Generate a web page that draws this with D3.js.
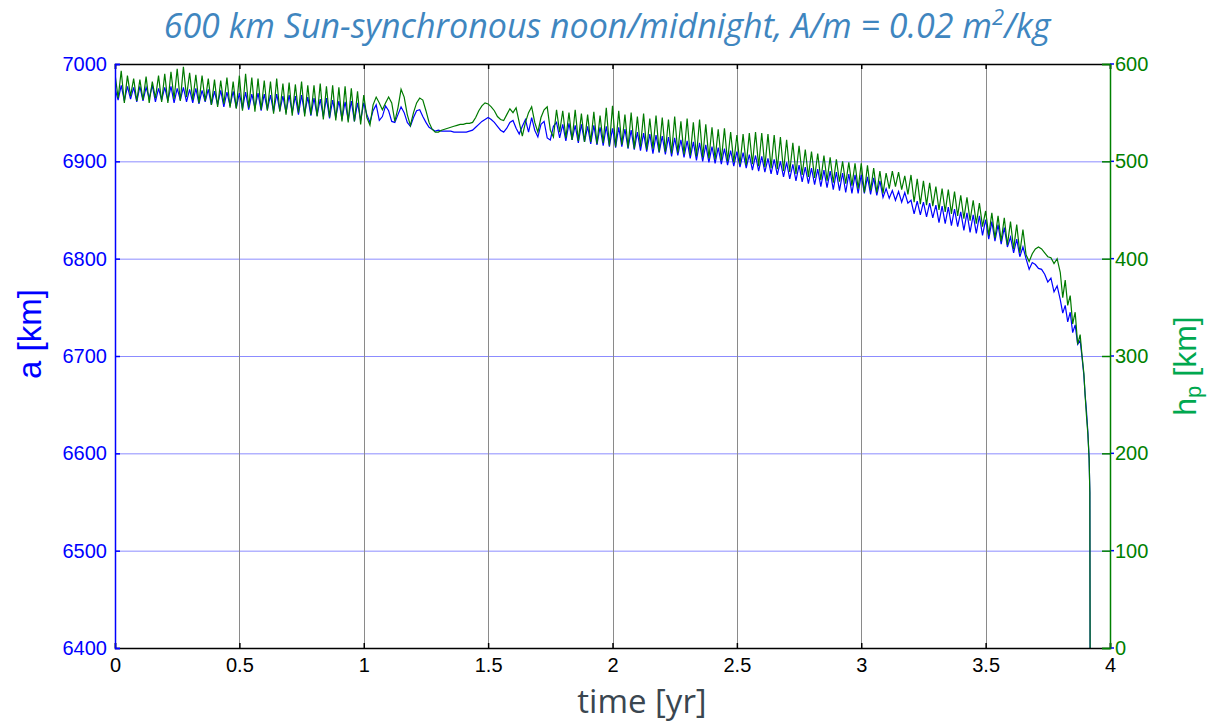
<!DOCTYPE html>
<html>
<head>
<meta charset="utf-8">
<script src="https://cdn.jsdelivr.net/npm/d3@7"></script>
<style>
  body { margin: 0; background: #fff; }
  svg text { font-family: "Liberation Sans", Arial, sans-serif; }
</style>
</head>
<body>
<div id="chart"></div>
<script>
// ---- data ----
// time step for the main part (yr), one row = 0.1 yr
const tStep = 0.0125;

// semi-major axis a [km]
const aMain = [
  6975, 6963, 6978, 6962, 6977, 6964, 6976, 6961,
  6977, 6962, 6976, 6965, 6978, 6961, 6975, 6963,
  6976, 6962, 6977, 6960, 6975, 6963, 6976, 6961,
  6974, 6960, 6975, 6959, 6973, 6961, 6974, 6958,
  6972, 6958, 6973, 6956, 6971, 6957, 6972, 6955,
  6970, 6954, 6971, 6953, 6969, 6955, 6970, 6952,
  6969, 6953, 6968, 6951, 6969, 6952, 6967, 6950,
  6968, 6950, 6967, 6948, 6968, 6949, 6966, 6947,
  6965, 6947, 6964, 6946, 6965, 6944, 6963, 6945,
  6962, 6943, 6961, 6942, 6962, 6941, 6960, 6942,
  6960, 6948, 6940, 6952, 6958, 6942, 6946, 6957,
  6952, 6941, 6940, 6948, 6956, 6950, 6940, 6936,
  6945, 6952, 6953, 6946, 6940, 6935, 6933, 6931,
  6932, 6931, 6931, 6931, 6931, 6930, 6930, 6930,
  6930, 6930, 6931, 6932, 6935, 6938, 6941, 6943,
  6945, 6943, 6940, 6936, 6932, 6930, 6934, 6940,
  6942, 6934, 6928, 6936, 6943, 6930, 6945, 6932,
  6925, 6938, 6941, 6924, 6922, 6936, 6940, 6924,
  6938, 6921, 6939, 6922, 6937, 6919, 6938, 6920,
  6936, 6918, 6937, 6917, 6935, 6916, 6936, 6915,
  6934, 6914, 6935, 6915, 6933, 6913, 6932, 6912,
  6930, 6911, 6929, 6910, 6928, 6908, 6927, 6909,
  6926, 6907, 6925, 6905, 6924, 6906, 6922, 6904,
  6921, 6903, 6920, 6901, 6919, 6900, 6917, 6899,
  6915, 6898, 6914, 6897, 6913, 6896, 6911, 6895,
  6910, 6894, 6909, 6893, 6907, 6891, 6906, 6890,
  6905, 6889, 6903, 6887, 6902, 6886, 6900, 6884,
  6899, 6882, 6897, 6880, 6896, 6879, 6894, 6877,
  6893, 6876, 6892, 6874, 6891, 6873, 6890, 6871,
  6889, 6870, 6888, 6868, 6887, 6867, 6886, 6867,
  6886, 6867, 6884, 6866, 6883, 6865, 6880, 6863,
  6872, 6862, 6870, 6860, 6869, 6858, 6868, 6857,
  6860, 6846, 6859, 6845, 6858, 6843, 6857, 6842,
  6855, 6837, 6854, 6836, 6853, 6834, 6851, 6833,
  6848, 6829, 6847, 6827, 6845, 6826, 6844, 6824,
  6840, 6820, 6838, 6818, 6835, 6815, 6832, 6812,
  6822, 6806, 6820, 6802, 6812, 6800, 6789, 6796,
  6794, 6790, 6789, 6784, 6776, 6780, 6766, 6772
];

// perigee altitude hp [km]
const hpMain = [
  590, 565, 593, 560, 588, 567, 585, 562,
  584, 563, 587, 560, 582, 565, 588, 561,
  590, 560, 592, 564, 595, 562, 597, 566,
  591, 563, 589, 560, 588, 562, 585, 558,
  584, 556, 583, 559, 586, 555, 582, 554,
  588, 552, 590, 555, 586, 551, 585, 553,
  583, 552, 582, 549, 585, 551, 580, 548,
  581, 547, 579, 550, 582, 546, 578, 548,
  578, 546, 580, 543, 577, 545, 578, 542,
  576, 541, 577, 540, 575, 541, 572, 538,
  568, 545, 537, 558, 566, 560, 553, 560,
  566, 560, 541, 555, 574, 566, 548, 537,
  550, 560, 565, 563, 552, 540, 533, 530,
  530, 532, 533, 534, 535, 536, 537, 538,
  538, 539, 539, 540, 545, 552, 557, 560,
  559, 556, 552, 546, 543, 542, 548, 554,
  550, 555, 540, 526, 540, 550, 556, 540,
  530, 545, 553, 556, 532, 525, 553, 530,
  552, 524, 550, 522, 553, 521, 549, 520,
  548, 520, 551, 518, 547, 519, 555, 516,
  557, 515, 552, 517, 548, 514, 550, 513,
  546, 515, 549, 512, 544, 513, 547, 510,
  545, 510, 543, 508, 546, 509, 541, 507,
  544, 506, 540, 505, 543, 504, 538, 503,
  535, 502, 533, 501, 534, 500, 530, 499,
  527, 497, 528, 496, 529, 497, 530, 495,
  529, 494, 528, 493, 527, 492, 525, 490,
  522, 489, 519, 487, 516, 486, 512, 484,
  510, 483, 508, 481, 506, 480, 504, 478,
  502, 479, 500, 477, 499, 475, 498, 472,
  498, 468, 496, 470, 493, 468, 490, 467,
  488, 472, 490, 474, 489, 471, 485, 466,
  486, 458, 482, 456, 480, 455, 478, 454,
  474, 450, 472, 448, 471, 446, 469, 444,
  465, 441, 463, 439, 460, 436, 457, 433,
  449, 424, 447, 421, 444, 418, 442, 414,
  438, 410, 435, 406, 430, 404, 397, 405,
  410, 412, 410, 406, 402, 401, 395, 400
];

// final decay, irregular time steps
const tTail  = [3.8, 3.81, 3.82, 3.83, 3.84, 3.85, 3.86, 3.87, 3.88, 3.887, 3.895, 3.9, 3.905, 3.911, 3.916, 3.919, 3.92];
const aTail  = [6758, 6744, 6752, 6735, 6745, 6724, 6732, 6712, 6716, 6700, 6680, 6660, 6645, 6622, 6595, 6560, 6400];
const hpTail = [386, 360, 378, 352, 362, 333, 345, 312, 322, 302, 282, 260, 240, 220, 195, 160, 0];

const xTicks  = [0, 0.5, 1, 1.5, 2, 2.5, 3, 3.5, 4];
const aTicks  = [6400, 6500, 6600, 6700, 6800, 6900, 7000];
const hpTicks = [0, 100, 200, 300, 400, 500, 600];

// ---- layout ----
const width = 1207, height = 723;
const m = {left: 115, right: 97, top: 64, bottom: 75};
const x0 = m.left, x1 = width - m.right, y0 = m.top, y1 = height - m.bottom;

const x = d3.scaleLinear().domain([0, 4]).range([x0, x1]);
const yA = d3.scaleLinear().domain([6400, 7000]).range([y1, y0]);
const yH = d3.scaleLinear().domain([0, 600]).range([y1, y0]);

const toSeries = (main, tailT, tailV) =>
  main.map((v, i) => [i * tStep, v]).concat(tailT.map((t, i) => [t, tailV[i]]));
const aData = toSeries(aMain, tTail, aTail);
const hpData = toSeries(hpMain, tTail, hpTail);

const svg = d3.select('#chart').append('svg')
  .attr('width', width)
  .attr('height', height);

// grid
svg.append('g').selectAll('line.hgrid')
  .data(aTicks.slice(1, -1))
  .join('line')
  .attr('x1', x0).attr('x2', x1)
  .attr('y1', d => yA(d) + 0.5).attr('y2', d => yA(d) + 0.5)
  .attr('stroke', '#8c8cff').attr('stroke-width', 1);

svg.append('g').selectAll('line.vgrid')
  .data(xTicks.slice(1, -1))
  .join('line')
  .attr('x1', d => Math.round(x(d)) + 0.5).attr('x2', d => Math.round(x(d)) + 0.5)
  .attr('y1', y0).attr('y2', y1)
  .attr('stroke', '#8a8a8a').attr('stroke-width', 1);

// lines
svg.append('clipPath').attr('id', 'plot')
  .append('rect').attr('x', x0).attr('y', y0 - 2).attr('width', x1 - x0).attr('height', y1 - y0 + 2);

const lineA = d3.line().x(d => x(d[0])).y(d => yA(d[1]));
const lineH = d3.line().x(d => x(d[0])).y(d => yH(d[1]));

svg.append('path')
  .datum(aData)
  .attr('d', lineA)
  .attr('clip-path', 'url(#plot)')
  .attr('fill', 'none').attr('stroke', '#0000ff').attr('stroke-width', 1.2);

svg.append('path')
  .datum(hpData)
  .attr('d', lineH)
  .attr('clip-path', 'url(#plot)')
  .attr('fill', 'none').attr('stroke', '#007a00').attr('stroke-width', 1.2);

// axes
const styleAxis = (g, color) => {
  g.select('.domain').attr('stroke', color).attr('stroke-width', 1.5);
  g.selectAll('.tick line').attr('stroke', color).attr('stroke-width', 1.5);
  g.selectAll('.tick text').attr('fill', color).style('font-size', '20px');
};

svg.append('g')
  .attr('transform', `translate(0,${y0})`)
  .call(d3.axisTop(x).tickValues(xTicks).tickSize(-5).tickFormat(''))
  .call(g => styleAxis(g, '#000'));

svg.append('g')
  .attr('transform', `translate(0,${y1})`)
  .call(d3.axisBottom(x).tickValues(xTicks).tickSize(-5).tickPadding(10).tickFormat(d3.format('')))
  .call(g => styleAxis(g, '#000'));

svg.append('g')
  .attr('transform', `translate(${x0},0)`)
  .call(d3.axisLeft(yA).tickValues(aTicks).tickSize(-5).tickPadding(8).tickFormat(d3.format('d')))
  .call(g => styleAxis(g, '#0000ff'));

// small outward blue ticks on the right edge
svg.append('g').selectAll('line.rtick')
  .data(aTicks)
  .join('line')
  .attr('x1', x1).attr('x2', x1 + 4)
  .attr('y1', d => yA(d)).attr('y2', d => yA(d))
  .attr('stroke', '#0000ff').attr('stroke-width', 1.5);

svg.append('g')
  .attr('transform', `translate(${x1},0)`)
  .call(d3.axisRight(yH).tickValues(hpTicks).tickSize(-8).tickPadding(5).tickFormat(d3.format('d')))
  .call(g => styleAxis(g, '#008000'));

// titles
const title = svg.append('text')
  .attr('x', 607).attr('y', 38)
  .attr('text-anchor', 'middle')
  .style('font-family', '"Open Sans", sans-serif')
  .style('font-style', 'italic')
  .style('font-size', '34px')
  .attr('fill', '#3f86bf');
title.append('tspan').text('600 km Sun-synchronous noon/midnight, A/m = 0.02 m');
title.append('tspan').attr('dy', -13).style('font-size', '22px').text('2');
title.append('tspan').attr('dy', 13).text('/kg');

svg.append('text')
  .attr('x', 642).attr('y', 713)
  .attr('text-anchor', 'middle')
  .style('font-family', '"Open Sans", sans-serif')
  .style('font-size', '33px')
  .attr('fill', '#3a4650')
  .text('time [yr]');

svg.append('text')
  .attr('transform', `translate(41,334) rotate(-90)`)
  .attr('text-anchor', 'middle')
  .style('font-size', '33px')
  .attr('fill', '#0000ff')
  .text('a [km]');

const hpLabel = svg.append('text')
  .attr('transform', `translate(1196,366) rotate(-90)`)
  .attr('text-anchor', 'middle')
  .style('font-size', '32px')
  .attr('fill', '#00a84f');
hpLabel.append('tspan').text('h');
hpLabel.append('tspan').attr('dy', 5).style('font-size', '22px').text('p');
hpLabel.append('tspan').attr('dy', -5).text(' [km]');
</script>
</body>
</html>
